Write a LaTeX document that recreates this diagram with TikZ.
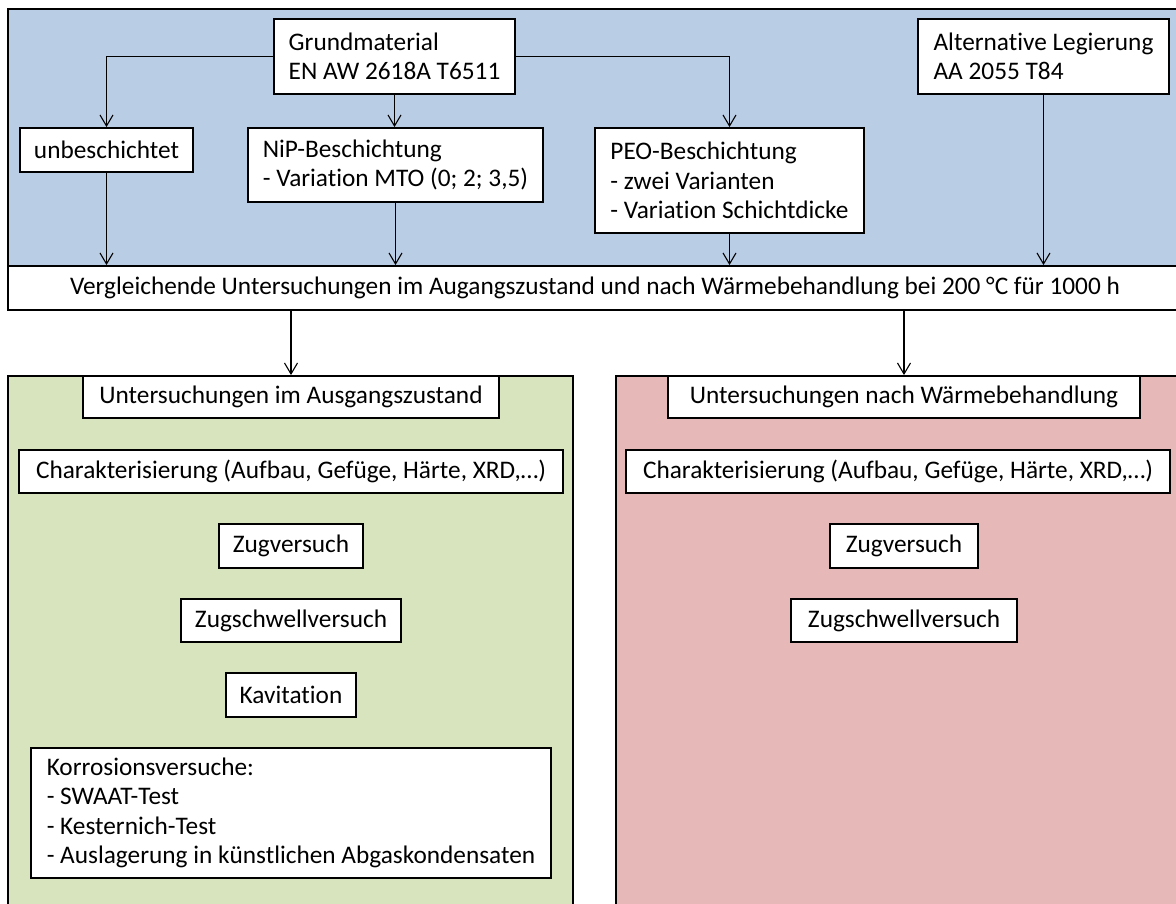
\documentclass[tikz,border=0pt]{standalone}
\usepackage{fontspec}
\setmainfont{Carlito}[Ligatures=NoCommon]
\usetikzlibrary{arrows.meta}
\definecolor{bluebg}{HTML}{B9CDE5}
\definecolor{greenbg}{HTML}{D7E4BD}
\definecolor{redbg}{HTML}{E6B9B8}
\begin{document}
\begin{tikzpicture}[x=1pt,y=-1pt,
  box/.style={draw=black, line width=1.9pt, fill=white, inner sep=0pt, align=left,
    font=\fontsize{25.3}{29.4}\selectfont},
  conn/.style={line width=1.1pt, -{Straight Barb[length=11pt,width=13pt,line width=1.1pt]}},
  panel/.style={draw=black, line width=1.9pt}]
\clip (0,0) rectangle (1176,903);
\fill[white] (0,0) rectangle (1176,903);
% panels
\draw[panel, fill=bluebg] (8,9) rectangle (1182,266);
\draw[panel, fill=greenbg] (8,376) rectangle (573,920);
\draw[panel, fill=redbg] (616,376) rectangle (1182,920);
% top section
\node[box, minimum width=241pt, minimum height=75pt] (grund) at (394.5,56.5) {Grundmaterial\\EN AW 2618A T6511};
\node[box, minimum width=251pt, minimum height=75pt] (alt) at (1043.5,56.5) {Alternative Legierung\\AA 2055 T84};
\node[box, minimum width=173pt, minimum height=44pt] (unb) at (106.5,150) {unbeschichtet};
\node[box, minimum width=295pt, minimum height=74pt] (nip) at (395.5,165) {NiP-Beschichtung\\- Variation MTO (0; 2; 3,5)};
\node[box, minimum width=269pt, minimum height=105pt] (peo) at (729.5,180.5) {PEO-Beschichtung\\- zwei Varianten\\- Variation Schichtdicke};
\node[box, minimum width=1174pt, minimum height=44pt] (vergl) at (595,288) {Vergleichende Untersuchungen im Augangszustand und nach Wärmebehandlung bei 200 °C für 1000 h};
% left column
\node[box, minimum width=416pt, minimum height=42pt] (u1) at (291,397) {Untersuchungen im Ausgangszustand};
\node[box, minimum width=544pt, minimum height=43pt] (c1) at (291,471.5) {Charakterisierung (Aufbau, Gefüge, Härte, XRD,…)};
\node[box, minimum width=144pt, minimum height=44pt] (z1) at (291,546) {Zugversuch};
\node[box, minimum width=220pt, minimum height=43pt] (zs1) at (291,620.5) {Zugschwellversuch};
\node[box, minimum width=130pt, minimum height=44pt] (k1) at (291,695) {Kavitation};
\node[box, minimum width=520pt, minimum height=130pt] (korr) at (291,813) {Korrosionsversuche:\\- SWAAT-Test\\- Kesternich-Test\\- Auslagerung in künstlichen Abgaskondensaten};
% right column
\node[box, minimum width=472pt, minimum height=42pt] (u2) at (904,397) {Untersuchungen nach Wärmebehandlung};
\node[box, minimum width=544pt, minimum height=43pt] (c2) at (898,471.5) {Charakterisierung (Aufbau, Gefüge, Härte, XRD,…)};
\node[box, minimum width=148pt, minimum height=44pt] (z2) at (904,546) {Zugversuch};
\node[box, minimum width=226pt, minimum height=43pt] (zs2) at (904,620.5) {Zugschwellversuch};
% connectors
\draw[conn] (grund.west) -| (unb.north);
\draw[conn] (grund.east) -| (peo.north);
\draw[conn] (grund.south) -- (grund.south |- nip.north);
\draw[conn] (unb.south) -- (unb.south |- vergl.north);
\draw[conn] (nip.south) -- (nip.south |- vergl.north);
\draw[conn] (peo.south) -- (peo.south |- vergl.north);
\draw[conn] (alt.south) -- (alt.south |- vergl.north);
\draw[conn] (vergl.south -| u1.north) -- (u1.north);
\draw[conn] (vergl.south -| u2.north) -- (u2.north);
\end{tikzpicture}
\end{document}
